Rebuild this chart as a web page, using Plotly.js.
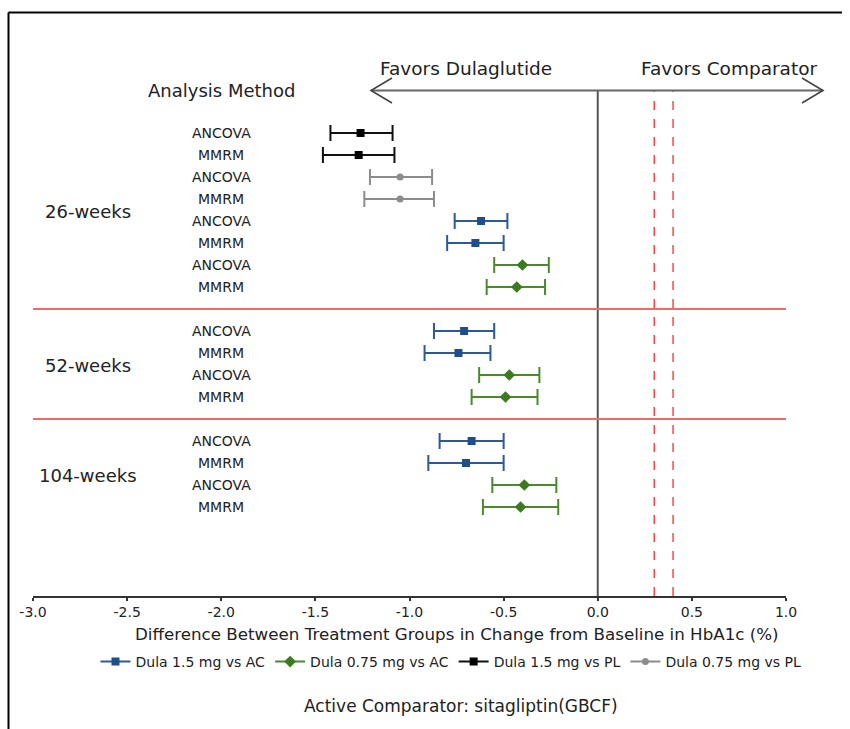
<!DOCTYPE html>
<html>
<head>
<meta charset="utf-8">
<script src="https://cdn.plot.ly/plotly-3.0.1.min.js"></script>
<style>html,body{margin:0;padding:0;background:#fff;}#chart{width:850px;height:729px;}</style>
</head>
<body>
<div id="chart"></div>
<script>
// ---------- DATA ----------
const weekLabels = ["26-weeks", "52-weeks", "104-weeks"];
const methodLabels = ["ANCOVA", "MMRM"];
const seriesNames = ["Dula 1.5 mg vs AC", "Dula 0.75 mg vs AC", "Dula 1.5 mg vs PL", "Dula 0.75 mg vs PL"];
const displayOrder = ["Dula 1.5 mg vs PL", "Dula 0.75 mg vs PL", "Dula 1.5 mg vs AC", "Dula 0.75 mg vs AC"];

const d15AC_week   = ["26-weeks", "26-weeks", "52-weeks", "52-weeks", "104-weeks", "104-weeks"];
const d15AC_method = ["ANCOVA", "MMRM", "ANCOVA", "MMRM", "ANCOVA", "MMRM"];
const d15AC_est    = [-0.62, -0.65, -0.71, -0.74, -0.67, -0.70];
const d15AC_lo     = [-0.76, -0.80, -0.87, -0.92, -0.84, -0.90];
const d15AC_hi     = [-0.48, -0.50, -0.55, -0.57, -0.50, -0.50];

const d075AC_week   = ["26-weeks", "26-weeks", "52-weeks", "52-weeks", "104-weeks", "104-weeks"];
const d075AC_method = ["ANCOVA", "MMRM", "ANCOVA", "MMRM", "ANCOVA", "MMRM"];
const d075AC_est    = [-0.40, -0.43, -0.47, -0.49, -0.39, -0.41];
const d075AC_lo     = [-0.55, -0.59, -0.63, -0.67, -0.56, -0.61];
const d075AC_hi     = [-0.26, -0.28, -0.31, -0.32, -0.22, -0.21];

const d15PL_week   = ["26-weeks", "26-weeks"];
const d15PL_method = ["ANCOVA", "MMRM"];
const d15PL_est    = [-1.26, -1.27];
const d15PL_lo     = [-1.42, -1.46];
const d15PL_hi     = [-1.09, -1.08];

const d075PL_week   = ["26-weeks", "26-weeks"];
const d075PL_method = ["ANCOVA", "MMRM"];
const d075PL_est    = [-1.05, -1.05];
const d075PL_lo     = [-1.21, -1.24];
const d075PL_hi     = [-0.88, -0.87];

const xTickVals = [-3.0, -2.5, -2.0, -1.5, -1.0, -0.5, 0.0, 0.5, 1.0];
const xTickText = ["-3.0", "-2.5", "-2.0", "-1.5", "-1.0", "-0.5", "0.0", "0.5", "1.0"];
const refLines = [0.3, 0.4];
const favorLabels = ["Favors Dulaglutide", "Favors Comparator"];
const favorPos = [-0.7, 0.7];
const xTitle = "Difference Between Treatment Groups in Change from Baseline in HbA1c (%)";
const footnote = "Active Comparator: sitagliptin(GBCF)";
const methodHeader = "Analysis Method";

// ---------- STYLES ----------
const seriesColors = ["#1f4e8a", "#3b7a1e", "#000000", "#8c8c8c"];
const errColors = ["#2c5a96", "#4a8a2c", "#111111", "#8c8c8c"];
const seriesSymbols = ["square", "diamond", "square", "circle"];
const seriesSizes = [8, 9, 8, 7];
const FONT = "DejaVu Sans";

// ---------- BUILD ----------
const seriesData = [
  {w: d15AC_week, m: d15AC_method, e: d15AC_est, lo: d15AC_lo, hi: d15AC_hi},
  {w: d075AC_week, m: d075AC_method, e: d075AC_est, lo: d075AC_lo, hi: d075AC_hi},
  {w: d15PL_week, m: d15PL_method, e: d15PL_est, lo: d15PL_lo, hi: d15PL_hi},
  {w: d075PL_week, m: d075PL_method, e: d075PL_est, lo: d075PL_lo, hi: d075PL_hi}
];
const rowId = (w, s, m) => w + "|" + s + "|" + m;

const categories = [];
const rowMethod = [];
const weekBlocks = [];
const separators = [];
weekLabels.forEach((w, wi) => {
  if (wi > 0) { separators.push(categories.length); categories.push("sep" + wi); rowMethod.push(null); }
  const start = categories.length;
  displayOrder.forEach(sName => {
    const si = seriesNames.indexOf(sName);
    const sd = seriesData[si];
    methodLabels.forEach(m => {
      for (let k = 0; k < sd.w.length; k++) {
        if (sd.w[k] === w && sd.m[k] === m) { categories.push(rowId(w, sName, m)); rowMethod.push(m); }
      }
    });
  });
  weekBlocks.push({label: w, mid: (start + categories.length - 1) / 2});
});

const traces = seriesNames.map((name, si) => {
  const sd = seriesData[si];
  const x = [], y = [], ep = [], em = [];
  for (let k = 0; k < sd.e.length; k++) {
    if (k > 0) { x.push(null); y.push(null); ep.push(null); em.push(null); }
    x.push(sd.e[k]); y.push(rowId(sd.w[k], name, sd.m[k]));
    ep.push(sd.hi[k] - sd.e[k]); em.push(sd.e[k] - sd.lo[k]);
  }
  return {
    type: "scatter", mode: "lines+markers", name: name, x: x, y: y,
    connectgaps: false,
    line: {color: errColors[si], width: 2},
    marker: {color: seriesColors[si], symbol: seriesSymbols[si], size: seriesSizes[si]},
    error_x: {type: "data", symmetric: false, array: ep, arrayminus: em,
              color: errColors[si], thickness: 2, width: 8},
    hoverinfo: "x+name"
  };
});

// pixel helpers for decoration (plot area: x 33..786, y 50..596)
const PX = p => (p - 33) / 753;
const PY = p => (596 - p) / 546;

const shapes = [];
shapes.push({type: "line", xref: "x", yref: "paper", x0: 0, x1: 0, y0: 0, y1: PY(90.5),
             line: {color: "#555555", width: 2}});
refLines.forEach(v => shapes.push({type: "line", xref: "x", yref: "paper", x0: v, x1: v, y0: 0, y1: PY(90.5),
             line: {color: "#ff2a2a", width: 1.3, dash: "dash"}}));
separators.forEach(idx => shapes.push({type: "line", xref: "x", yref: "y", x0: xTickVals[0], x1: xTickVals[xTickVals.length - 1],
             y0: idx, y1: idx, line: {color: "#f06a6a", width: 2}}));
shapes.push({type: "line", xref: "paper", yref: "paper", x0: PX(371), x1: PX(823), y0: PY(90.5), y1: PY(90.5),
             line: {color: "#666666", width: 2}});
shapes.push({type: "path", xref: "paper", yref: "paper",
             path: "M" + PX(392) + "," + PY(78) + " L" + PX(371) + "," + PY(90.5) + " L" + PX(392) + "," + PY(103),
             line: {color: "#444444", width: 1.6}});
shapes.push({type: "path", xref: "paper", yref: "paper",
             path: "M" + PX(802) + "," + PY(78) + " L" + PX(823) + "," + PY(90.5) + " L" + PX(802) + "," + PY(103),
             line: {color: "#444444", width: 1.6}});
shapes.push({type: "line", xref: "paper", yref: "paper", x0: PX(8.5), x1: PX(842), y0: PY(12.5), y1: PY(12.5),
             line: {color: "#000", width: 2}});
shapes.push({type: "line", xref: "paper", yref: "paper", x0: PX(8.5), x1: PX(8.5), y0: PY(12.5), y1: PY(740),
             line: {color: "#000", width: 2}});

const annotations = [];
categories.forEach((c, i) => {
  if (rowMethod[i]) annotations.push({xref: "x", yref: "y", x: -2.0, y: c, text: rowMethod[i], showarrow: false,
    xanchor: "center", yanchor: "middle", font: {family: FONT, size: 14, color: "#222"}});
});
weekBlocks.forEach(b => annotations.push({xref: "x", yref: "y", x: -2.71, y: b.mid + 0.05, text: b.label, showarrow: false,
    xanchor: "center", yanchor: "middle", font: {family: FONT, size: 18, color: "#222"}}));
annotations.push({xref: "x", yref: "paper", x: -2.0, y: PY(91), text: methodHeader, showarrow: false,
    xanchor: "center", yanchor: "middle", font: {family: FONT, size: 18, color: "#222"}});
favorLabels.forEach((t, i) => annotations.push({xref: "x", yref: "paper", x: favorPos[i], y: PY(68), text: t, showarrow: false,
    xanchor: "center", yanchor: "middle", font: {family: FONT, size: 18.5, color: "#222"}}));
annotations.push({xref: "paper", yref: "paper", x: PX(457), y: PY(634), text: xTitle, showarrow: false,
    xanchor: "center", yanchor: "middle", font: {family: FONT, size: 16.7, color: "#222"}});
annotations.push({xref: "paper", yref: "paper", x: PX(461), y: PY(706), text: footnote, showarrow: false,
    xanchor: "center", yanchor: "middle", font: {family: FONT, size: 17, color: "#222"}});

const layout = {
  width: 850, height: 729,
  margin: {l: 33, r: 64, t: 50, b: 133},
  paper_bgcolor: "#ffffff", plot_bgcolor: "#ffffff",
  font: {family: FONT, color: "#222"},
  showlegend: true,
  legend: {orientation: "h", x: PX(451), xanchor: "center", y: PY(662), yanchor: "middle",
           font: {family: FONT, size: 14, color: "#222"}, bgcolor: "rgba(0,0,0,0)"},
  xaxis: {range: [-3, 1], tickvals: xTickVals, ticktext: xTickText, showgrid: false, zeroline: false,
          showline: true, linecolor: "#333", linewidth: 1.5, ticks: "outside", ticklen: 3, tickwidth: 2,
          tickcolor: "#333", tickfont: {family: FONT, size: 14, color: "#222"}, fixedrange: true},
  yaxis: {type: "category", categoryorder: "array", categoryarray: categories,
          range: [(596 - 133) / 22, (50 - 133) / 22], showticklabels: false, ticks: "", showgrid: false,
          zeroline: false, showline: false, fixedrange: true},
  shapes: shapes,
  annotations: annotations
};

Plotly.newPlot("chart", traces, layout, {displayModeBar: false, staticPlot: true});
</script>
</body>
</html>
